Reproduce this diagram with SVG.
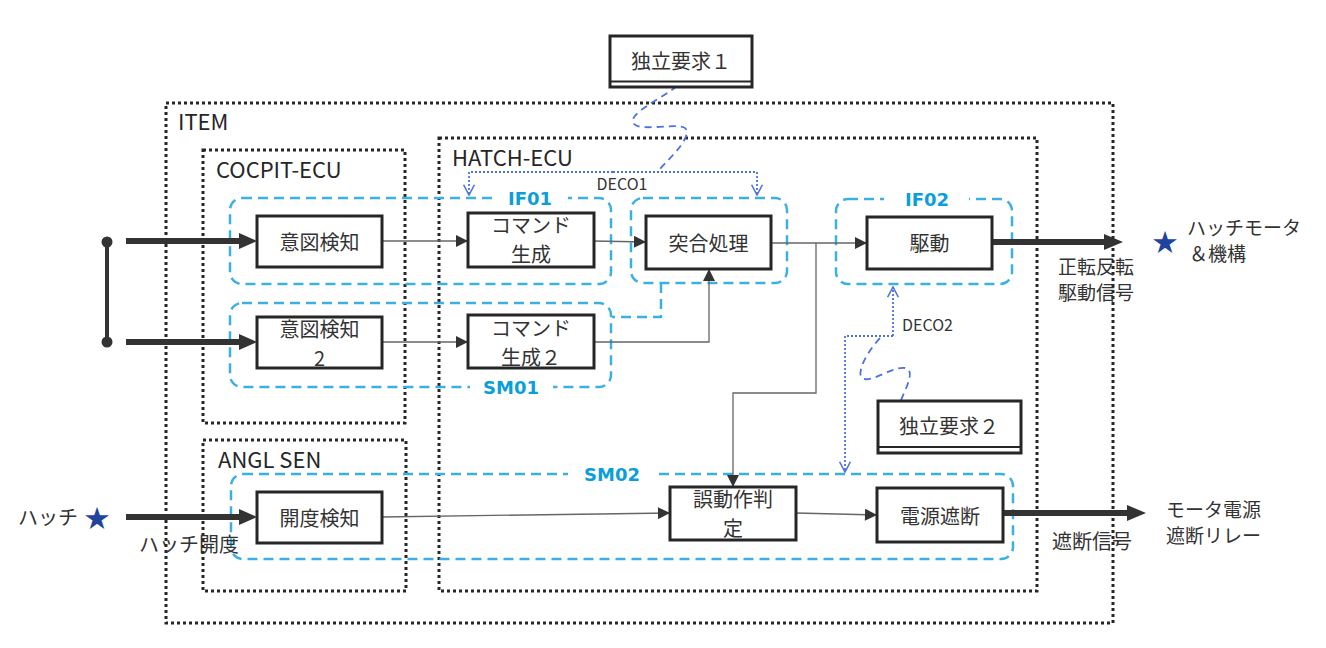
<svg xmlns="http://www.w3.org/2000/svg" width="1326" height="648" viewBox="0 0 1326 648">
<style>
.box{fill:#fff;stroke:#262626;stroke-width:3}
.grp{fill:none;stroke:#262626;stroke-width:3;stroke-dasharray:3 3}
.sm{fill:none;stroke:#3DB0E3;stroke-width:2.5;stroke-dasharray:10 6}
.t{font-family:"Noto Sans CJK JP","Noto Sans",sans-serif;font-size:20px;fill:#333}
.t2{font-family:"Noto Sans CJK JP","Noto Sans",sans-serif;font-size:19px;fill:#333}
.gl{font-family:"Noto Sans CJK JP","Noto Sans",sans-serif;font-size:22px;fill:#262626}
.dl{font-family:"Noto Sans CJK JP","Noto Sans",sans-serif;font-size:16px;fill:#333}
.lbl{font-family:"DejaVu Sans",sans-serif;font-weight:bold;font-size:18px;fill:#0A9FD9}
.thin{stroke:#666;stroke-width:1.3;fill:none}
.thick{stroke:#333;stroke-width:6;fill:none}
.ah{fill:#333}
.deco{stroke:#4B72E0;stroke-width:1.8;stroke-dasharray:2 2;fill:none}
.sq{stroke:#4B72E0;stroke-width:1.8;stroke-dasharray:7 5;fill:none}
.star{font-family:"Noto Sans CJK JP","DejaVu Sans",sans-serif;font-size:25px;fill:#1F44A0}
</style>
<defs>
<marker id="a" viewBox="0 0 10 10" refX="10" refY="5" markerWidth="13" markerHeight="12" markerUnits="userSpaceOnUse" orient="auto"><path d="M0,0 L10,5 L0,10 z" fill="#333"/></marker>
<marker id="o" viewBox="0 0 10 10" refX="9.5" refY="5" markerWidth="12" markerHeight="12" markerUnits="userSpaceOnUse" orient="auto"><path d="M1,0.5 L9.5,5 L1,9.5" fill="none" stroke="#4B72E0" stroke-width="1.3"/></marker>
</defs>
<rect width="1326" height="648" fill="#fff"/>

<g id="item"><rect class="grp" x="166" y="103" width="947" height="520"/><text class="gl" x="178" y="130">ITEM</text></g>
<g id="cocpit-ecu"><rect class="grp" x="203" y="150" width="202" height="273"/><text class="gl" x="216" y="178">COCPIT-ECU</text></g>
<g id="angl-sen"><rect class="grp" x="203" y="440" width="203" height="151"/><text class="gl" x="218" y="468">ANGL SEN</text></g>
<g id="hatch-ecu"><rect class="grp" x="439" y="138" width="598" height="453"/><text class="gl" x="452" y="166">HATCH-ECU</text></g>

<g id="if01"><rect class="sm" x="230" y="198" width="381" height="86" rx="12"/><rect x="494" y="189" width="74" height="18" fill="#fff"/><text class="lbl" x="530" y="198" text-anchor="middle" dominant-baseline="central">IF01</text></g>
<g id="sm01"><rect class="sm" x="230" y="303" width="381" height="84" rx="12"/><rect class="sm" x="631" y="198" width="156" height="85" rx="12"/><path class="sm" d="M661,283 V317 H612"/><rect x="470" y="378" width="83" height="18" fill="#fff"/><text class="lbl" x="511" y="387" text-anchor="middle" dominant-baseline="central">SM01</text></g>
<g id="if02"><rect class="sm" x="836" y="199" width="176" height="85" rx="12"/><rect x="884" y="190" width="85" height="18" fill="#fff"/><text class="lbl" x="927" y="199" text-anchor="middle" dominant-baseline="central">IF02</text></g>
<g id="sm02"><rect class="sm" x="231" y="474" width="782" height="85" rx="12"/><rect x="568" y="465" width="86" height="18" fill="#fff"/><text class="lbl" x="612" y="474" text-anchor="middle" dominant-baseline="central">SM02</text></g>

<g id="connectors">
<line x1="107" y1="242" x2="107" y2="342" stroke="#333" stroke-width="4"/>
<circle cx="107" cy="242" r="5.5" fill="#333"/>
<circle cx="107" cy="342" r="5.5" fill="#333"/>
<line class="thick" x1="126" y1="241" x2="242" y2="241"/><polygon class="ah" points="239,233 257,241 239,249"/>
<line class="thick" x1="126" y1="342" x2="242" y2="342"/><polygon class="ah" points="239,334 257,342 239,350"/>
<line class="thick" x1="126" y1="517" x2="242" y2="517"/><polygon class="ah" points="239,509 257,517 239,525"/>
<line class="thick" x1="993" y1="242" x2="1107" y2="242"/><polygon class="ah" points="1104,234 1123,242 1104,250"/>
<line class="thick" x1="1003" y1="513" x2="1130" y2="513"/><polygon class="ah" points="1127,505 1146,513 1127,521"/>
<line class="thin" x1="382" y1="241" x2="468" y2="241" marker-end="url(#a)"/>
<line class="thin" x1="594" y1="241" x2="646" y2="242" marker-end="url(#a)"/>
<line class="thin" x1="771" y1="243" x2="867" y2="243" marker-end="url(#a)"/>
<line class="thin" x1="382" y1="342" x2="468" y2="342" marker-end="url(#a)"/>
<path class="thin" d="M594,342 H709 V269" marker-end="url(#a)"/>
<path class="thin" d="M816,243 V393 H733 V487" marker-end="url(#a)"/>
<line class="thin" x1="382" y1="517" x2="670" y2="513" marker-end="url(#a)"/>
<line class="thin" x1="796" y1="513" x2="877" y2="515" marker-end="url(#a)"/>
<path class="deco" d="M613,172 H469 V195" marker-end="url(#o)"/>
<path class="deco" d="M613,172 H757 V195" marker-end="url(#o)"/>
<path class="sq" d="M677,86 C660,100 626,114 634,124 C640,131 672,124 683,127 C692,130 684,143 673,155 L658,171"/>
<path class="deco" d="M893,336 H845 V472" marker-end="url(#o)"/>
<path class="deco" d="M893,336 V287" marker-end="url(#o)"/>
<path class="sq" d="M901,400 C906,388 916,370 905,368 C893,366 870,384 862,378 C856,372 868,350 882,336"/>
<text class="dl" x="622" y="183" text-anchor="middle" dominant-baseline="central">DECO1</text>
<text class="dl" x="902" y="324" dominant-baseline="central">DECO2</text>
</g>

<g id="req1"><rect class="box" x="610" y="36" width="142" height="51"/><line x1="610" y1="81.5" x2="752" y2="81.5" stroke="#262626" stroke-width="2"/><text class="t" x="681" y="60" text-anchor="middle" dominant-baseline="central">独立要求１</text></g>
<g id="req2"><rect class="box" x="878" y="401" width="143" height="52"/><line x1="878" y1="447" x2="1021" y2="447" stroke="#262626" stroke-width="2"/><text class="t" x="949" y="425" text-anchor="middle" dominant-baseline="central">独立要求２</text></g>

<g id="ito"><rect class="box" x="257" y="216" width="125" height="51"/><text class="t" x="319.5" y="241" text-anchor="middle" dominant-baseline="central">意図検知</text></g>
<g id="ito2"><rect class="box" x="257" y="317" width="125" height="51"/><text class="t" text-anchor="middle" dominant-baseline="central"><tspan x="319.5" y="328">意図検知</tspan><tspan x="319.5" y="357">2</tspan></text></g>
<g id="cmd"><rect class="box" x="468" y="213" width="126" height="54"/><text class="t" text-anchor="middle" dominant-baseline="central"><tspan x="531" y="224">コマンド</tspan><tspan x="531" y="253">生成</tspan></text></g>
<g id="cmd2"><rect class="box" x="468" y="315" width="126" height="53"/><text class="t" text-anchor="middle" dominant-baseline="central"><tspan x="531" y="327">コマンド</tspan><tspan x="531" y="356">生成２</tspan></text></g>
<g id="totsugo"><rect class="box" x="646" y="216" width="125" height="53"/><text class="t" x="708.5" y="242" text-anchor="middle" dominant-baseline="central">突合処理</text></g>
<g id="kudo"><rect class="box" x="867" y="217" width="125" height="52"/><text class="t" x="929.5" y="242" text-anchor="middle" dominant-baseline="central">駆動</text></g>
<g id="kaido"><rect class="box" x="257" y="492" width="125" height="51"/><text class="t" x="319.5" y="517" text-anchor="middle" dominant-baseline="central">開度検知</text></g>
<g id="gosa"><rect class="box" x="670" y="487" width="126" height="53"/><text class="t" text-anchor="middle" dominant-baseline="central"><tspan x="733" y="498">誤動作判</tspan><tspan x="733" y="527">定</tspan></text></g>
<g id="dengen"><rect class="box" x="877" y="488" width="126" height="54"/><text class="t" x="940" y="515" text-anchor="middle" dominant-baseline="central">電源遮断</text></g>

<g id="ext-in"><text class="t" x="18" y="516" dominant-baseline="central">ハッチ</text><text class="star" x="97" y="516" text-anchor="middle" dominant-baseline="central">★</text><text class="t" x="139" y="543" dominant-baseline="central">ハッチ開度</text></g>
<g id="ext-motor"><text class="star" x="1165" y="240" text-anchor="middle" dominant-baseline="central">★</text><text class="t2" dominant-baseline="central"><tspan x="1187" y="226">ハッチモータ</tspan><tspan x="1189" y="252">＆機構</tspan></text><text class="t2" dominant-baseline="central"><tspan x="1058" y="265">正転反転</tspan><tspan x="1058" y="291">駆動信号</tspan></text></g>
<g id="ext-relay"><text class="t2" dominant-baseline="central"><tspan x="1166" y="508">モータ電源</tspan><tspan x="1166" y="534">遮断リレー</tspan></text><text class="t" x="1052" y="540" dominant-baseline="central">遮断信号</text></g>
</svg>
